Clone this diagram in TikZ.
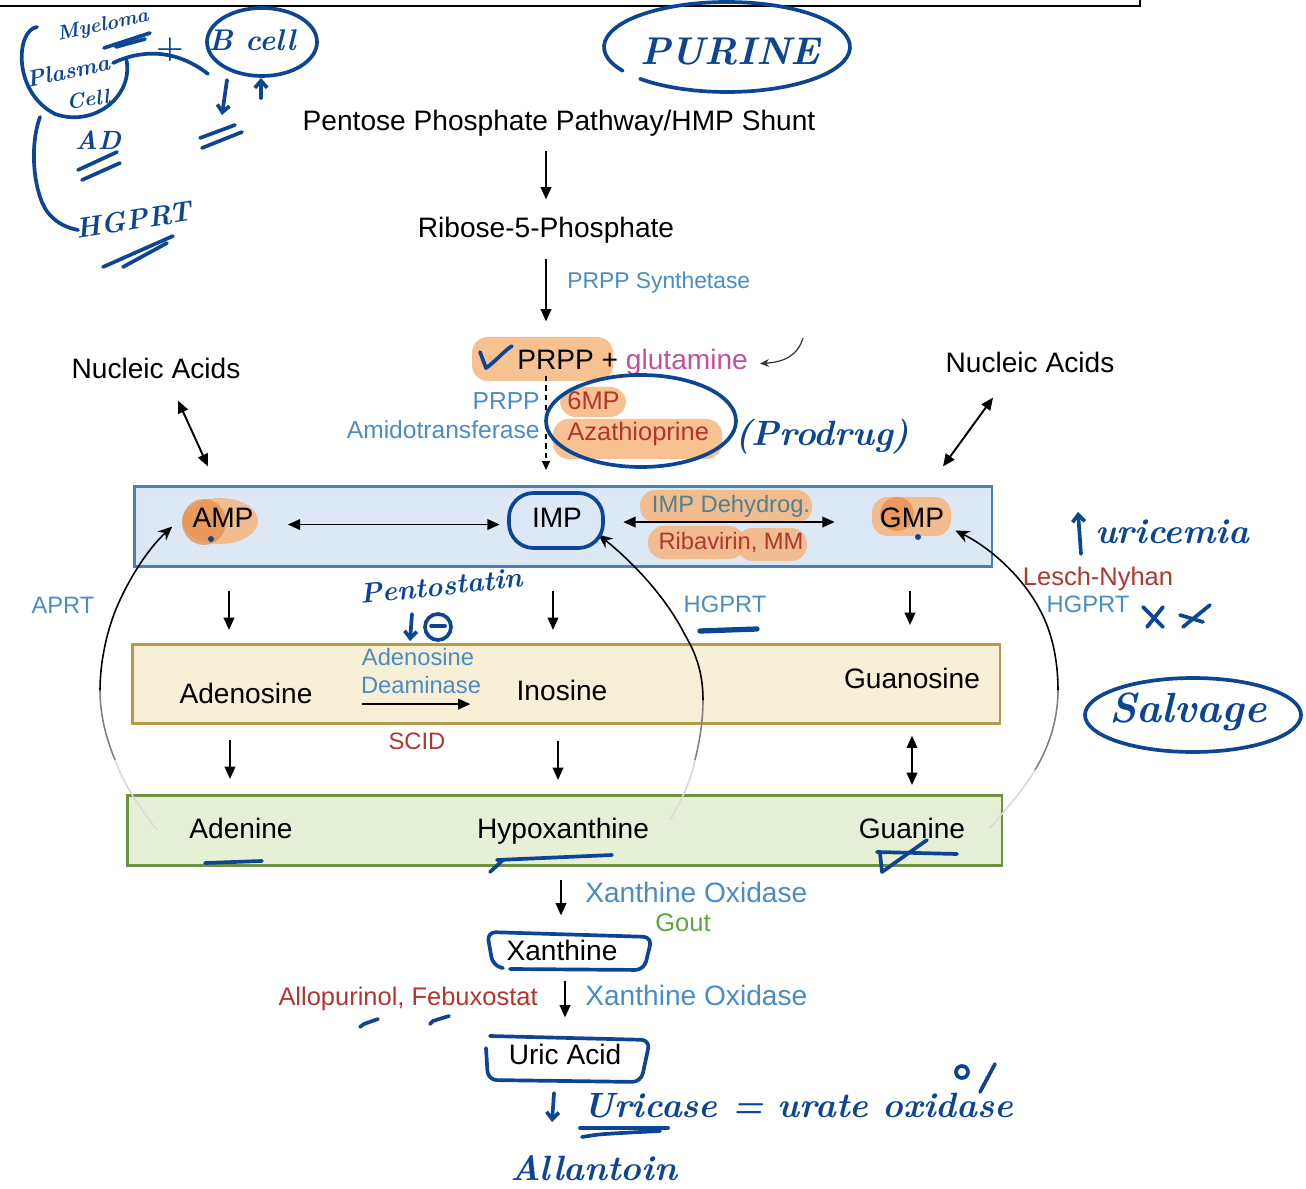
\documentclass[tikz,border=0pt]{standalone}
\usepackage{fontspec}
\usetikzlibrary{arrows.meta,calc}
\newfontfamily\labfont{Liberation Sans}
\definecolor{lblue}{HTML}{4A8CC6}
\definecolor{dred}{HTML}{B2352E}
\definecolor{mag}{HTML}{C24FA0}
\definecolor{goutg}{HTML}{5DA83B}
\definecolor{dehyd}{HTML}{52808E}
\definecolor{hand}{HTML}{0B4594}
\definecolor{hlorange}{HTML}{F5B277}
\definecolor{hldark}{HTML}{E58B45}
\definecolor{bluefill}{HTML}{DCE8F6}
\definecolor{blueline}{HTML}{4C7DB4}
\definecolor{yelfill}{HTML}{F7F0D6}
\definecolor{yelline}{HTML}{B59A4E}
\definecolor{grnfill}{HTML}{E6F0D6}
\definecolor{grnline}{HTML}{6E9142}
\newcommand\fsz[1]{\fontsize{#1}{#1}\selectfont}

\begin{document}
\begin{tikzpicture}[x=0.02cm,y=-0.02cm,
  big/.style={inner sep=0pt, anchor=base, font=\labfont\fsz{16}, text height=11.5pt, text depth=3pt},
  mid/.style={inner sep=0pt, anchor=base, font=\labfont\fsz{14.5}, text height=10.4pt, text depth=3pt},
  sml/.style={inner sep=0pt, anchor=base, font=\labfont\fsz{13.5}, text height=9.7pt, text depth=2.7pt},
  arr/.style={line width=1.1pt, -{Triangle[length=7pt,width=6pt]}},
  darr/.style={line width=1.1pt, {Triangle[length=7pt,width=6pt]}-{Triangle[length=7pt,width=6pt]}},
  salv/.style={line width=0.9pt},
  salvtip/.style={line width=0.9pt, -{Stealth[length=8pt,width=7pt]}},
  panel/.style={anchor=north west, inner sep=0pt, line width=1.5pt},
  hl/.style={fill=hlorange, fill opacity=0.8, rounded corners=9pt},
  ink/.style={draw=hand, line width=2.1pt, line cap=round, line join=round},
  inkarr/.style={ink, -{Straight Barb[length=4pt,width=7pt]}},
  inktxt/.style={inner sep=0pt, text=hand, font=\bfseries\itshape\fsz{20}},
]
\useasboundingbox (0,0) rectangle (1306,1189);

% lower edge of the frame above
\draw[line width=1.4pt] (0,6) -- (1140,6) -- (1140,0);

% panels: nucleotides, nucleosides, bases
\node[panel, draw=blueline, fill=bluefill, minimum width=17.16cm, minimum height=1.6cm] (nucbox) at (133,485) {};
\node[panel, draw=yelline, fill=yelfill, minimum width=17.36cm, minimum height=1.58cm] (sidebox) at (131,643) {};
\node[panel, draw=grnline, fill=grnfill, minimum width=17.5cm, minimum height=1.4cm] (basebox) at (126,794) {};

% highlighter marks
\fill[hl] (472,337) rectangle (613,381);
\fill[hl] (560,387) rectangle (626,417);
\fill[hl] (553,419) rectangle (722,459);
\fill[hl] (640,490) rectangle (812,523);
\fill[hl] (648,526) rectangle (745,559);
\fill[hl] (737,528) rectangle (807,561);
\fill[hlorange, fill opacity=0.8] (220,521) ellipse [x radius=38, y radius=23];
\fill[hldark, fill opacity=0.7] (204,522) ellipse [x radius=22, y radius=23];
\fill[hl] (872,497) rectangle (951,536);
\fill[hldark, fill opacity=0.7] (897,514) ellipse [x radius=17, y radius=17];

% labels
\node[big] (pps) at (559,131) {Pentose Phosphate Pathway/HMP Shunt};
\node[big] (r5p) at (546,238) {Ribose-5-Phosphate};
\node[sml, font=\labfont\fsz{13}, anchor=base west, text=lblue] (prppsyn) at (567,289) {PRPP Synthetase};
\node[big, anchor=base west] (prpp) at (517,370) {PRPP + \textcolor{mag}{glutamine}};
\node[mid, font=\labfont\fsz{14}, anchor=base east, text=lblue] (amid1) at (540,410) {PRPP};
\node[mid, font=\labfont\fsz{14}, anchor=base east, text=lblue] (amid2) at (540,439) {Amidotransferase};
\node[mid, anchor=base west, text=dred] (mp6) at (567,410) {6MP};
\node[mid, anchor=base west, text=dred] (aza) at (567,441) {Azathioprine};
\node[big] (nucL) at (156,379) {Nucleic Acids};
\node[big] (nucR) at (1030,373) {Nucleic Acids};
\node[big] (amp) at (223,528) {AMP};
\node[big] (imp) at (557,528) {IMP};
\node[big] (gmp) at (912,528) {GMP};
\node[sml, text=dehyd] (impdh) at (731,513) {IMP Dehydrog.};
\node[sml, text=dred] (riba) at (731,550) {Ribavirin, MM};
\node[big] (adenosine) at (246,704) {Adenosine};
\node[sml, text=lblue] (ada1) at (418,665) {Adenosine};
\node[sml, text=lblue] (ada2) at (421,693) {Deaminase};
\node[big] (inosine) at (562,701) {Inosine};
\node[big] (guanosine) at (912,688) {Guanosine};
\node[sml, text=dred] (scid) at (417,749) {SCID};
\node[big] (adenine) at (241,838) {Adenine};
\node[big] (hypox) at (563,838) {Hypoxanthine};
\node[big] (guanine) at (912,838) {Guanine};
\node[big, anchor=base west, text=lblue] (xo1) at (585,902) {Xanthine Oxidase};
\node[mid, text=goutg] (gout) at (683,931) {Gout};
\node[big] (xanthine) at (562,960) {Xanthine};
\node[mid, anchor=base east, text=dred] (allo) at (538,1005) {Allopurinol, Febuxostat};
\node[big, anchor=base west, text=lblue] (xo2) at (585,1005) {Xanthine Oxidase};
\node[big] (uric) at (565,1064) {Uric Acid};
\node[sml, text=lblue] (aprt) at (63,614) {APRT};
\node[sml, text=lblue] (hgprt1) at (725,613) {HGPRT};
\node[mid, text=dred] (lesch) at (1098,585) {Lesch-Nyhan};
\node[sml, text=lblue] (hgprt2) at (1088,613) {HGPRT};

% de novo pathway
\draw[arr, shorten <=0.28cm, shorten >=0.36cm] (r5p.north |- pps.south) -- (r5p.north);
\draw[arr, shorten <=0.3cm, shorten >=0.56cm] (r5p.south) -- (r5p.south |- prpp.north);
\draw[line width=0.7pt, dash pattern=on 3pt off 2.5pt, -{Triangle[length=5pt,width=4.5pt]}, shorten >=0.3cm]
  (r5p.south |- prpp.south) -- (r5p.south |- nucbox.north);
\coordinate (gq) at (803,338);
\draw[line width=0.7pt, black!80, -{Stealth[length=5pt,width=4.5pt]}] (gq) .. controls (798,355) and (785,362) .. ($(prpp.east)+(12,1)$);

% nucleic acid exchange
\draw[darr] ([shift={(22,16)}]nucL.south) -- ([shift={(-15,-41)}]amp.north);
\draw[darr] ([shift={(-37,19)}]nucR.south) -- ([shift={(31,-41)}]gmp.north);

% nucleotide interconversion
\draw[darr] ($(amp.east)+(34,4)$) -- ($(imp.west)+(-32,4)$);
\draw[darr] ($(imp.east)+(41,1.5)$) -- ($(gmp.west)+(-45,1.5)$);

% degradation steps
\draw[arr] ($(amp|-nucbox.south)+(6,23)$) -- ($(amp|-sidebox.north)+(6,-13)$);
\draw[arr] ($(imp|-nucbox.south)+(-4,23)$) -- ($(imp|-sidebox.north)+(-4,-13)$);
\draw[arr] ($(gmp|-nucbox.south)+(-2,23)$) -- ($(gmp|-sidebox.north)+(-2,-18)$);
\draw[arr] ($(adenosine|-sidebox.south)+(-16,15)$) -- ($(adenosine|-basebox.north)+(-16,-15)$);
\draw[arr] ($(inosine|-sidebox.south)+(-4,16)$) -- ($(inosine|-basebox.north)+(-4,-14)$);
\draw[darr] ($(guanosine|-sidebox.south)+(0,11)$) -- ($(guanosine|-basebox.north)+(0,-9)$);
\draw[arr] ($(ada2.south west)+(1,6)$) -- ($(ada2.south east)+(-11,6)$);
\draw[arr] ($(hypox|-basebox.south)+(-2,13)$) -- ($(xanthine.north)+(-1,-24)$);
\draw[arr] ($(xanthine.south)+(3,15)$) -- ($(uric.north)+(0,-26)$);

% salvage arcs
\coordinate (adsv) at (157,830);
\draw[salv, black!15] (adsv) .. controls (140,808) and (124,785) .. (115,760);
\draw[salv, black!50] (115,760) .. controls (106,738) and (100,715) .. (100,690);
\draw[salvtip] (100,690) .. controls (100,660) and (108,625) .. (120,600) .. controls (133,572) and (150,547) .. ($(amp.west)+(-20,6)$);
\coordinate (hxsv) at (670,820);
\draw[salv, black!15] (hxsv) .. controls (682,800) and (691,780) .. (695,760);
\draw[salv, black!50] (695,760) .. controls (700,740) and (703,720) .. (703,700);
\draw[salvtip] (703,700) .. controls (703,675) and (697,655) .. (685,635) .. controls (665,595) and (630,560) .. ($(imp.east)+(16,14)$);
\coordinate (gusv) at (990,828);
\draw[salv, black!15] (gusv) .. controls (1005,810) and (1022,792) .. (1035,770);
\draw[salv, black!50] (1035,770) .. controls (1050,745) and (1058,718) .. (1058,690);
\draw[salvtip] (1058,690) .. controls (1058,660) and (1052,632) .. (1040,610) .. controls (1020,572) and (985,545) .. ($(gmp.east)+(11,10)$);

% ---------- pen notes ----------
\node[inktxt, font=\bfseries\itshape\fsz{11.5}, rotate=12] (hmye) at (103,26) {Myeloma};
\draw[ink] (104,48) -- (150,33);
\draw[ink] (116,47) -- (145,39);
\node[inktxt, font=\bfseries\itshape\fsz{13}, rotate=12] (hplasma) at (68,71) {Plasma};
\node[inktxt, font=\bfseries\itshape\fsz{12}, rotate=8] (hcell) at (88,99) {Cell};
\draw[ink] (37,27) .. controls (16,30) and (12,92) .. (55,114) .. controls (95,128) and (135,95) .. (126,58);
\draw[ink] (113,63) .. controls (140,50) and (175,48) .. (208,74);
\node[inktxt, font=\bfseries\fsz{18}] (hplus) at (170,50) {+};
\draw[ink] (262,42) ellipse [x radius=55, y radius=34];
\node[inktxt, font=\bfseries\itshape\fsz{17}] (hbcell) at (252,40) {B cell};
\draw[inkarr] (227,80) -- (222,115);
\draw[inkarr] (261,98) -- (261,78);
\draw[ink] (200,138) -- (235,125);
\draw[ink] (202,148) -- (242,132);
\draw[ink] (40,117) .. controls (28,150) and (35,200) .. (50,215) .. controls (58,224) and (68,228) .. (78,230);
\node[inktxt, font=\bfseries\itshape\fsz{15}] (had) at (98,140) {AD};
\draw[ink] (78,170) -- (117,152);
\draw[ink] (82,180) -- (120,163);
\node[inktxt, font=\bfseries\itshape\fsz{16}, rotate=9] (hhg) at (134,220) {HGPRT};
\draw[ink] (103,267) -- (173,236);
\draw[ink] (123,267) -- (167,243);

\node[inktxt, font=\bfseries\itshape\fsz{22}] (hpur) at (730,52) {PURINE};
\draw[ink] (727,47) ++(148:123 and 45) arc[start angle=148, end angle=495, x radius=123, y radius=45];

\draw[ink] (480,352) -- (486,368) .. controls (495,362) and (505,350) .. (512,346);
\draw[ink] (641,421) ellipse [x radius=95, y radius=46];
\node[inktxt, anchor=west] (hprod) at (735,437) {(Prodrug)};

\draw[ink, rounded corners=14pt] (509,493) rectangle (603,548);
\fill[hand] (211,539) circle [radius=3];
\fill[hand] (918,537) circle [radius=3];

\node[inktxt, font=\bfseries\itshape\fsz{16}, rotate=6] (hpent) at (441,586) {Pentostatin};
\draw[inkarr] (412,614) -- (410,641);
\draw[ink] (438,627) circle [radius=13];
\draw[ink] (431,626) -- (445,626);

\draw[ink, line width=3pt] (700,631) -- (757,629);

\draw[inkarr] (1081,554) -- (1078,512);
\node[inktxt] (hurem) at (1172,532) {uricemia};
\draw[ink] (1143,607) -- (1163,627);
\draw[ink] (1163,607) -- (1147,627);
\draw[ink] (1180,615) -- (1203,622);
\draw[ink] (1210,605) -- (1183,627);
\node[inktxt, font=\bfseries\itshape\fsz{24}] (hsal) at (1188,712) {Salvage};
\draw[ink] (1193,715) ellipse [x radius=108, y radius=37];

\draw[ink] (205,863) -- (262,861);
\draw[ink] (490,872) -- (503,860);
\draw[ink] (497,860) -- (612,855);
\draw[ink] (877,852) -- (957,854);
\draw[ink] (880,853) -- (882,872) -- (927,840);

\draw[ink, rounded corners=5pt] (503,968) -- (493,966) -- (487,932) -- (652,937) -- (644,970) -- (510,969);
\draw[ink, rounded corners=5pt] (490,1036) -- (650,1040) -- (641,1082) -- (488,1080) -- (486,1048);
\draw[ink] (360,1027) -- (364,1024) -- (378,1019);
\draw[ink] (430,1024) -- (433,1021) -- (449,1016);

\draw[inkarr] (554,1093) -- (552,1122);
\node[inktxt, anchor=west] (hucase) at (583,1106) {Uricase = urate oxidase};
\draw[ink] (580,1128) -- (668,1128);
\draw[ink] (582,1137) .. controls (600,1134) .. (660,1131);
\draw[ink] (962,1072) circle [radius=6];
\draw[ink] (995,1064) -- (980,1092);
\node[inktxt] (hall) at (594,1168) {Allantoin};
\end{tikzpicture}
\end{document}
